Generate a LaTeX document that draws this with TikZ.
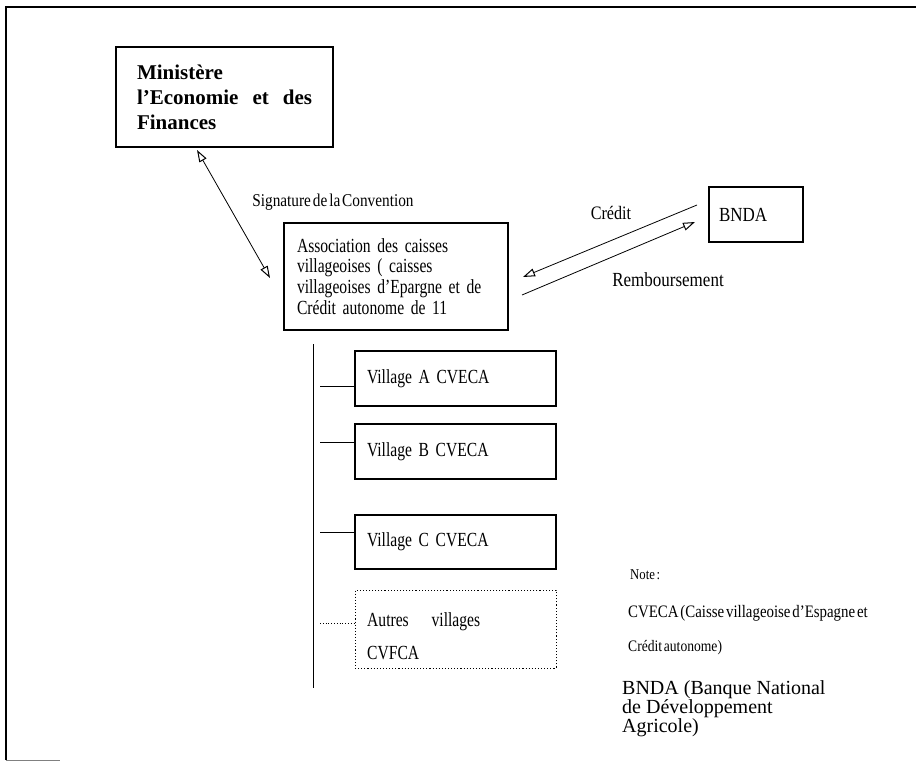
\documentclass[tikz,border=0pt]{standalone}
\usepackage{fontspec}
\setmainfont{Liberation Serif}
\newfontfamily\cond[FakeStretch=0.85,WordSpace=0.5]{Liberation Serif}
\newfontfamily\condb[FakeStretch=0.78,WordSpace=0.6]{Liberation Serif}
\usetikzlibrary{arrows.meta,calc}
\begin{document}
\begin{tikzpicture}[x=1pt,y=-1pt,
  box/.style={draw, line width=1.1pt, inner ysep=0pt, outer sep=0pt},
  conn/.style={line width=0.8pt},
  tipa/.style={line width=0.8pt, -{Triangle[open,length=12pt,width=8pt,line width=1pt]}},
  tipb/.style={line width=0.8pt, {Triangle[open,length=12pt,width=8pt,line width=1pt]}-{Triangle[open,length=12pt,width=8pt,line width=1pt]}},
  vbox/.style={box, anchor=north west, minimum width=201, text width=177, inner xsep=12, align=left, font=\condb\fontsize{20}{20}\selectfont},
  lbl/.style={inner sep=0pt},
  notef/.style={inner sep=0pt, anchor=west}]
\useasboundingbox (0,0) rectangle (916,763);
% frame
\draw[line width=2pt] (6,760) -- (6,7) -- (916,7);
\draw[gray, line width=1pt] (6,760) -- (60,760);

% Ministere
\node[box, anchor=north west, minimum width=217, minimum height=100, text width=175, inner xsep=21, align=left, font=\bfseries\fontsize{21}{25}\selectfont] (min) at (116,47)
  {Ministère\\\leavevmode\hbox to 175pt{l’Economie\hfill et\hfill des}\\Finances};

% Association
\node[box, anchor=north west, minimum width=224, minimum height=107, text width=198, inner xsep=13, align=left, font=\condb\fontsize{20}{20.7}\selectfont] (assoc) at (284,223)
  {Association des caisses\\villageoises ( caisses\\villageoises d’Epargne et de\\Crédit autonome de 11};

% BNDA
\node[box, anchor=north west, minimum width=94, minimum height=55, text width=74, inner xsep=10, align=left, font=\cond\fontsize{20}{20}\selectfont] (bnda) at (709,187) {BNDA};

% labels
\node[lbl, font=\cond\fontsize{18}{18}\selectfont] (sig) at (333,202) {Signature de la Convention};
\node[lbl, font=\cond\fontsize{19}{19}\selectfont] (credit) at (611,213) {Crédit};
\node[lbl, font=\cond\fontsize{20}{20}\selectfont] (remb) at (668,280) {Remboursement};

% arrows
\coordinate (s1) at (197,150);
\coordinate (s2) at (270,278);
\draw[tipb] (s1) -- (s2);
\coordinate (c1) at (697,205);
\coordinate (c2) at (523,277);
\draw[tipa] (c1) -- (c2);
\coordinate (r1) at (522,295);
\coordinate (r2) at (695,222);
\draw[tipa] (r1) -- (r2);

% villages
\node[vbox, minimum height=55] (va) at (355,351) {Village A CVECA};
\node[vbox, minimum height=55] (vb) at (355,424) {Village B CVECA};
\node[vbox, minimum height=54] (vc) at (355,515) {Village C CVECA};
\node[box, dotted, line width=1pt, anchor=north west, minimum width=201, minimum height=78] (vd) at (355,590) {};
\node[inner sep=0pt, anchor=base west, font=\condb\fontsize{20}{20}\selectfont] (vdt) at (367,626) {\hbox to 113pt{Autres\hfill villages}};
\node[inner sep=0pt, anchor=base west, font=\condb\fontsize{20}{20}\selectfont] (vdt2) at (367,659) {CVFCA};

% tree connectors
\coordinate (vt) at (313,344);
\coordinate (vbt) at (313,688);
\draw[conn] (vt) -- (vbt);
\coordinate (ha) at (320,386);
\coordinate (hb) at (320,442);
\coordinate (hc) at (320,532);
\coordinate (hd) at (320,623);
\draw[conn] (ha) -- (ha -| va.west);
\draw[conn] (hb) -- (hb -| vb.west);
\draw[conn] (hc) -- (hc -| vc.west);
\draw[conn, dotted] (hd) -- (hd -| vd.west);

% note
\node[notef, font=\cond\fontsize{15}{15}\selectfont] (note) at (630,575) {Note :};
\node[notef, font=\cond\fontsize{17.5}{17.5}\selectfont] (n1) at (628,613) {CVECA (Caisse villageoise d’Espagne et};
\node[notef, font=\cond\fontsize{16}{16}\selectfont] (n2) at (628,648) {Crédit autonome)};
\node[inner sep=0pt, anchor=north west, align=left, font=\fontsize{20}{17.5}\selectfont] (n3) at (622,680) {BNDA (Banque National\\de Développement\\Agricole)};
\end{tikzpicture}
\end{document}
